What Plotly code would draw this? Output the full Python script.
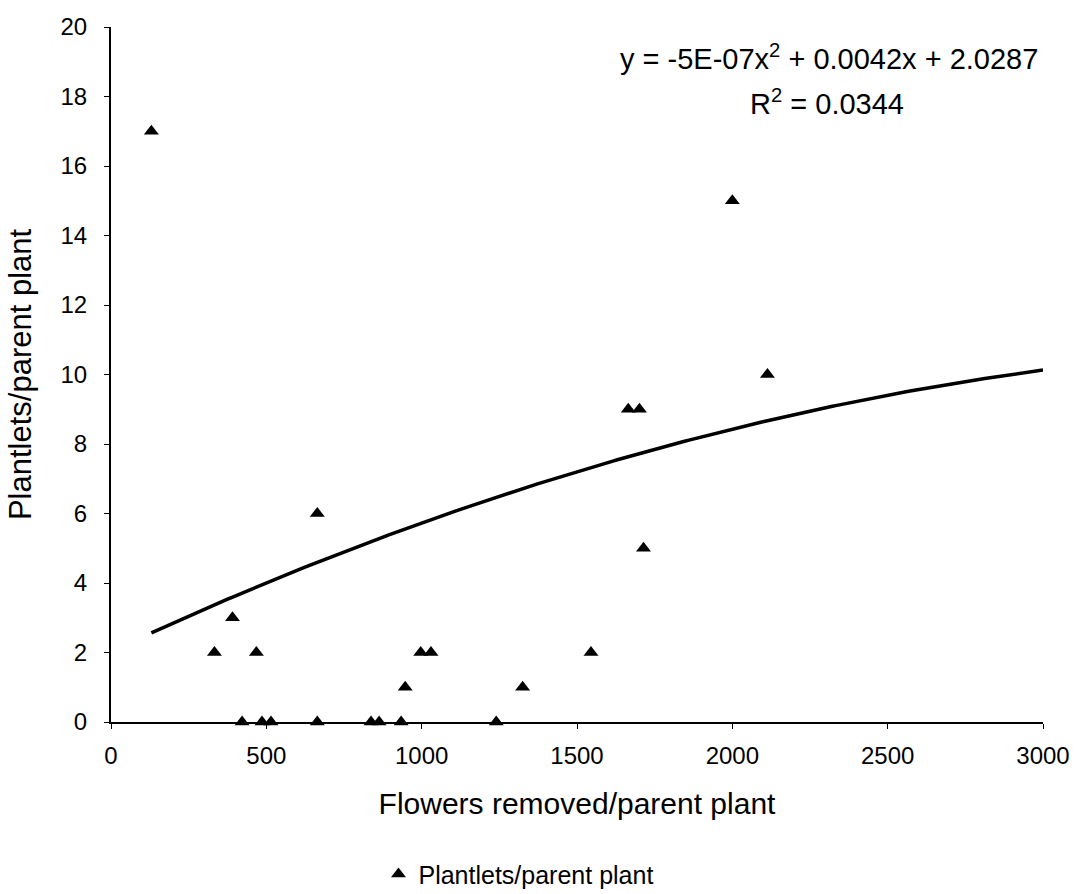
import numpy as np
import plotly.graph_objects as go

# Data
flowers_removed = [130, 333, 391, 468, 664, 947, 997, 1030, 1325,
                   422, 486, 515, 664, 837, 863, 934, 1240,
                   2000, 2113, 1665, 1701, 1714, 1545]
plantlets = [17, 2, 3, 2, 6, 1, 2, 2, 1,
             0, 0, 0, 0, 0, 0, 0, 0,
             15, 10, 9, 9, 5, 2]

x_ticks = [0, 500, 1000, 1500, 2000, 2500, 3000]
y_ticks = [0, 2, 4, 6, 8, 10, 12, 14, 16, 18, 20]

# Trendline coefficients as printed on the chart (x^2, x, constant)
trend_coefficients = [-5e-07, 0.0042, 2.0287]
trend_end = 3000

equation_text = "y = -5E-07x<sup>2</sup> + 0.0042x + 2.0287"
r2_text = "R<sup>2</sup> = 0.0344"

trend_x = np.linspace(min(flowers_removed), trend_end, 200)
trend_y = np.polyval(trend_coefficients, trend_x)

FONT = "Liberation Sans, Arial, sans-serif"

fig = go.Figure()
fig.add_trace(go.Scatter(
    x=trend_x, y=trend_y, mode="lines",
    line=dict(color="black", width=3.5),
    showlegend=False, hoverinfo="skip", cliponaxis=False,
))
fig.add_trace(go.Scatter(
    x=flowers_removed, y=plantlets, mode="markers",
    name="Plantlets/parent plant",
    marker=dict(symbol="triangle-up", size=13, color="black"),
    cliponaxis=False,
))

fig.add_annotation(x=2310, y=19.15, xref="x", yref="y", text=equation_text,
                   showarrow=False, font=dict(family=FONT, size=29, color="black"),
                   xanchor="center", yanchor="middle")
fig.add_annotation(x=2305, y=17.85, xref="x", yref="y", text=r2_text,
                   showarrow=False, font=dict(family=FONT, size=29, color="black"),
                   xanchor="center", yanchor="middle")

fig.update_layout(
    width=1083, height=894, autosize=False,
    margin=dict(l=111, r=40, t=27, b=172),
    paper_bgcolor="white", plot_bgcolor="white",
    font=dict(family=FONT, color="black"),
    legend=dict(x=0.287, y=0.022, xanchor="left", yanchor="middle",
                yref="container",
                orientation="h", font=dict(family=FONT, size=25),
                itemwidth=30, bgcolor="rgba(0,0,0,0)"),
)
fig.update_xaxes(
    range=[0, 3000], tickvals=x_ticks, showgrid=False, zeroline=False,
    showline=True, linecolor="black", linewidth=1.5,
    ticks="outside", ticklen=5, tickwidth=1, tickcolor="black",
    tickfont=dict(family=FONT, size=24), ticklabelstandoff=6,
    title=dict(text="Flowers removed/parent plant",
               font=dict(family=FONT, size=30), standoff=25),
)
fig.update_yaxes(
    range=[0, 20], tickvals=y_ticks, showgrid=False, zeroline=False,
    showline=True, linecolor="black", linewidth=2,
    ticks="outside", ticklen=5, tickwidth=1, tickcolor="black",
    tickfont=dict(family=FONT, size=24), ticklabelstandoff=12,
    title=dict(text="Plantlets/parent plant",
               font=dict(family=FONT, size=31), standoff=20),
)

fig.write_html("out.html")
